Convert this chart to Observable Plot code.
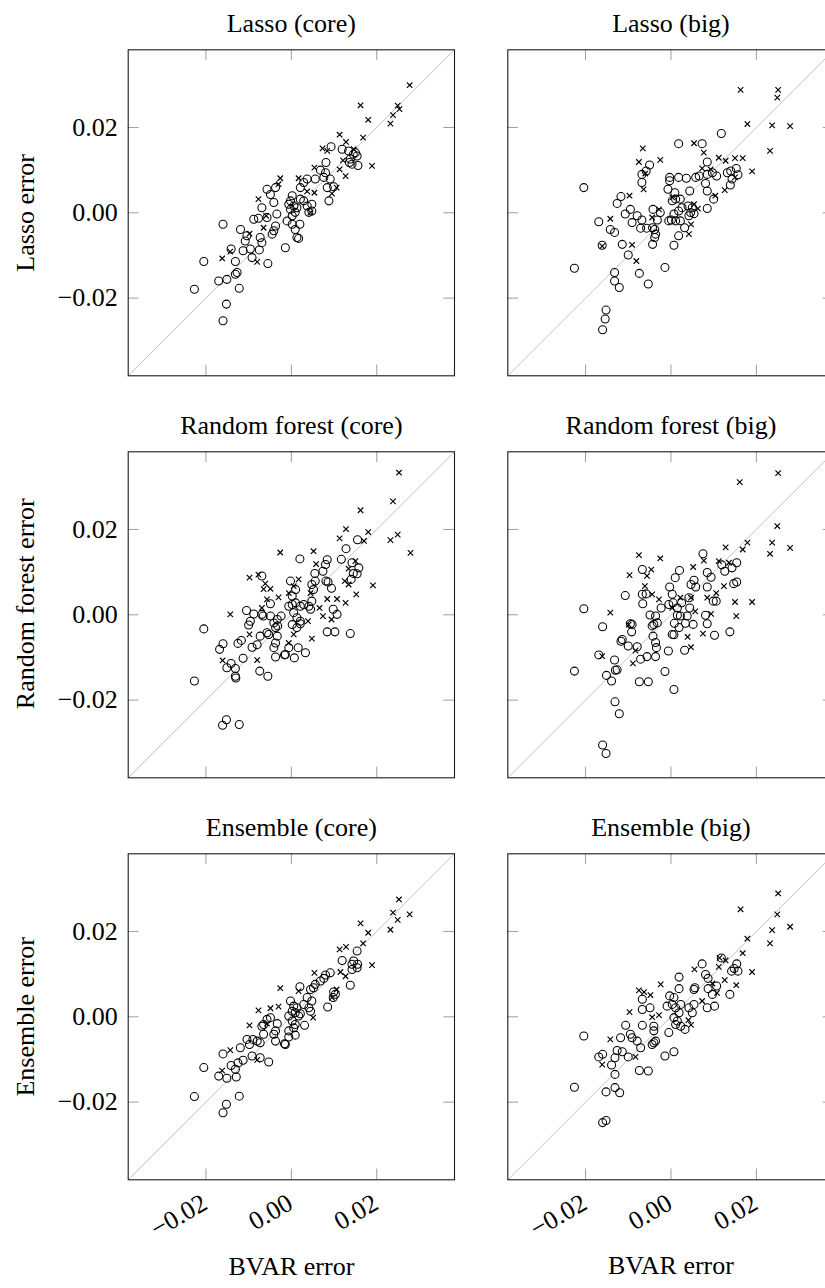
<!DOCTYPE html>
<html><head><meta charset="utf-8">
<script src="https://cdn.jsdelivr.net/npm/d3@7"></script>
<script src="https://cdn.jsdelivr.net/npm/@observablehq/plot@0.6"></script>
<style>
html,body{margin:0;padding:0;background:#fff;}
#fig{position:relative;width:825px;height:1288px;overflow:hidden;background:#fff;}
#fig svg{position:absolute;}
</style></head><body><div id="fig"></div>
<script>
// ---- data: [BVAR error, model error] ----
const lassoCoreCircles = [[.0093,.0155],[.0119,.0149],[.0134,.0145],[.0145,.0137],[.0154,.0133],[.015,.0141],[.0138,.0126],[.0142,.0114],[.0156,.0111],[.0136,.0118],[.0081,.0118],[.0068,.01],[.008,.0094],[.0076,.0083],[.0056,.0079],[.0037,.0079],[.0091,.0079],[.0099,.0061],[.0084,.0059],[.0088,.0028],[.0029,.0071],[.0021,.0059],[.0021,.0032],[.0002,.004],[-.0002,.0028],[.0006,.0016],[.0013,.0012],[.0029,.0028],[.0037,.0016],[.0048,.002],[.0041,.0001],[.0048,.0004],[-.0006,.002],[-.0002,.0008],[.0009,.0001],[.0002,-.0007],[-.001,-.0019],[.0002,-.0027],[.0009,-.0039],[.0013,-.0058],[.002,-.0027],[-.0037,.0059],[-.0057,.0055],[-.0049,.0043],[-.0041,.0024],[-.0069,.0012],[-.0034,-.0003],[-.0057,-.0011],[-.0088,-.0015],[-.0077,-.0013],[-.0037,-.0031],[-.0041,-.0042],[-.0045,-.005],[-.0073,-.0058],[-.0069,-.007],[-.0104,-.0054],[-.0108,-.0066],[-.0119,-.0039],[-.0096,-.0085],[-.0092,-.0105],[-.0075,-.0087],[-.0113,-.0089],[-.0141,-.0085],[-.0131,-.0114],[-.0127,-.014],[-.0131,-.0144],[-.0151,-.0156],[-.017,-.016],[-.0122,-.0177],[-.0205,-.0114],[-.0227,-.0179],[-.0152,-.0214],[-.016,-.0253],[-.016,-.0027],[-.0055,-.0119],[-.0014,-.0082],[.0017,-.006]];
const lassoCoreCrosses = [[.0277,.0299],[.0162,.0252],[.0249,.0251],[.0253,.0243],[.0238,.0229],[.018,.0218],[.0232,.0209],[.0113,.0183],[.0168,.0176],[.0128,.0166],[.0073,.0151],[.0084,.0145],[.0189,.011],[.0113,.0102],[.0127,.0086],[.0054,.0106],[-.0026,.0081],[-.003,.0067],[.0017,.0081],[.0054,.0047],[.0106,.0059],[.0095,.0045],[-.0077,.0032],[-.0059,-.0007],[-.0098,-.0049],[-.0162,-.0107],[-.0143,-.0091],[-.008,-.0115],[.0045,.0001],[.0121,.0123],[-.0065,-.0035],[.0146,.0149],[.0037,.005]];
const lassoBigCircles = [[-.0204,.0059],[-.0226,-.013],[-.0169,-.0021],[-.0142,-.0039],[-.0132,-.0046],[-.0161,-.0076],[-.0114,-.0074],[-.01,-.0099],[-.0132,-.014],[-.0132,-.016],[-.0121,-.0175],[-.0152,-.0228],[-.0154,-.0249],[-.016,-.0274],[-.0074,-.0142],[-.0053,-.0167],[-.0014,-.0128],[-.0126,.0022],[-.0117,.0038],[-.0107,-.0003],[-.0095,.0008],[-.0091,-.0023],[-.0079,-.0007],[-.0068,-.0017],[-.0071,-.0036],[-.0057,-.0036],[-.0043,-.0035],[-.0038,-.0039],[-.0036,-.005],[-.0038,-.0058],[-.0043,-.0074],[-.0042,.0008],[-.0025,.00005],[-.0032,-.0017],[-.0068,.009],[-.0058,.0098],[-.005,.0112],[-.0068,.0071],[.0018,.0162],[.0073,.0162],[.0118,.0186],[-.0003,.0083],[-.0003,.0075],[.0018,.0083],[.0036,.0081],[.0058,.0083],[.0066,.0086],[.0085,.0119],[.0085,.009],[.0097,.0094],[.0107,.0086],[.0081,.00685],[.0085,.0051],[.01,.0032],[.0085,.001],[.0132,.0094],[.014,.0098],[.0153,.0104],[.0157,.0089],[.0143,.0079],[.0139,.0065],[.0044,.0051],[-.0007,.0055],[.0009,.0047],[.0011,.0032],[.0003,.0028],[.0022,.0032],[.0026,.0012],[.0018,.0004],[.0007,-.0003],[.0001,-.0017],[-.0005,-.0019],[.0011,-.0019],[.0022,-.0019],[.0042,-.0007],[.0046,.00005],[.0054,-.0002],[.004,.0016],[.005,.0012],[.0032,-.0035],[.0018,-.0054],[.0007,-.0076]];
const lassoBigCrosses = [[.0163,.0288],[.0251,.0288],[.0249,.027],[.0179,.0208],[.0237,.0205],[.0279,.0203],[.0232,.0145],[.019,.0097],[.0112,.0129],[.0128,.0122],[.015,.0128],[.0168,.0128],[.015,.0083],[.0126,.0053],[.0104,.004],[.0077,.0141],[.0054,.0163],[.0073,.0104],[.0093,.0102],[-.0025,.0124],[-.0066,.0151],[-.0075,.0119],[-.006,.0092],[-.0064,.0055],[-.0097,.004],[-.0142,-.0014],[-.0161,-.0078],[-.0091,-.0075],[-.0081,-.0113],[.0042,-.005],[.0047,-.0027],[.0054,.002],[-.0028,.0008],[-.0044,-.0011],[.0003,.0036],[.0063,.001]];
const rfCoreCircles = [[.0155,.0176],[.0128,.0155],[.0117,.013],[.0142,.0122],[.0158,.011],[.0154,.0096],[.0145,.0097],[.014,.0083],[.002,.0131],[.0084,.0129],[.008,.0118],[.0074,.0102],[.0055,.0097],[.0081,.0079],[.0086,.0077],[.0094,.0062],[.0056,.0079],[.0048,.0071],[.0052,.0059],[.0048,.0032],[.0041,.002],[.0045,.0013],[.0029,.0024],[.0021,.002],[.001,.0028],[.0002,.0044],[.001,.0059],[-.0002,.0079],[.0002,.0024],[-.0006,.002],[.00055,.0005],[.0013,-.0007],[.0021,-.0015],[.0002,-.0023],[.0021,-.0021],[.0013,-.003],[.0098,.0013],[.0107,.0001],[.0084,-.004],[.0102,-.004],[.0138,-.0044],[.0033,-.0089],[.0016,-.0077],[.0007,-.0101],[-.0006,-.0077],[-.0016,-.0094],[-.0037,-.0099],[-.0041,-.0077],[-.0037,-.0066],[-.0033,-.005],[-.0037,-.003],[-.0041,-.0019],[-.0033,-.0011],[-.0024,-.0003],[-.0049,-.0003],[-.0057,-.0042],[-.0053,-.0046],[-.0073,-.005],[-.008,-.007],[-.0092,-.0076],[-.0113,-.0102],[-.0125,-.0067],[-.0117,-.006],[-.016,-.0068],[-.0168,-.0081],[-.0141,-.0114],[-.0151,-.0124],[-.0131,-.0126],[-.013,-.0148],[-.0131,-.0144],[-.0074,-.0132],[-.0055,-.0144],[-.0105,.001],[-.0088,.0002],[-.0096,-.0015],[-.01,-.0024],[-.0069,.0001],[-.0066,-.0003],[-.0069,.0091],[-.0049,.0026],[-.0205,-.0033],[-.0227,-.0155],[-.0152,-.0246],[-.0161,-.0259],[-.0122,-.0257],[-.0032,-.0026],[-.0014,-.0093]];
const rfCoreCrosses = [[.0252,.0333],[.0238,.0266],[.0162,.0245],[.0128,.0201],[.018,.0194],[.0113,.0179],[.017,.0173],[.0232,.0175],[.0249,.0188],[.0279,.0145],[.0052,.0149],[-.0026,.0146],[.0058,.0119],[.015,.0126],[.0134,.0108],[.0125,.0079],[.0134,.0071],[.0191,.0069],[.0152,.0048],[.0127,.0028],[.0107,.0037],[.0084,.0037],[.0066,.0016],[.0074,-.0003],[.0094,-.0011],[.0039,-.0015],[.0048,-.0056],[.0017,.0083],[.00055,.0067],[-.0006,.0051],[-.003,.0041],[-.0049,.0061],[-.0061,.0073],[-.0065,.006],[-.0077,.0094],[-.0098,.0087],[-.0057,.0036],[-.0069,.0016],[-.0143,.0001],[-.0098,-.0046],[.00055,-.0046],[-.0006,-.0066],[-.008,-.0106],[-.0161,-.0107],[.0045,.0051]];
const rfBigCircles = [[.0075,.0143],[.002,.0104],[.001,.0087],[.0154,.0122],[.0143,.011],[.0126,.0102],[.0154,.0077],[.0147,.0073],[.0119,.0117],[.0085,.0099],[.0094,.0088],[.0085,.0065],[.0054,.0081],[.0058,.0065],[.0047,.0071],[.0099,.0032],[.0106,.0032],[.0081,-.0001],[.0085,-.0021],[.0102,-.0048],[.0138,-.004],[-.0003,.0065],[.0003,.0048],[.0005,.0028],[-.0005,.0024],[.0015,.0016],[.0025,.0028],[.0042,.004],[.0044,.0016],[.0038,-.0003],[.0022,-.0003],[.0015,-.0001],[.0008,-.002],[.0019,-.003],[.0003,-.0046],[.0007,-.0047],[.0032,-.0083],[.0052,-.00225],[.0034,-.002],[-.0006,-.0085],[-.0014,-.0133],[.0007,-.0175],[-.0023,.0016],[-.0049,-.00005],[-.0036,-.0003],[-.004,-.00225],[-.0044,-.0026],[-.0032,-.0019],[-.0042,-.005],[-.0036,-.0065],[-.0034,-.0077],[-.0036,-.0098],[-.0056,-.0098],[-.0071,-.0104],[-.0079,-.0075],[-.01,-.0073],[-.0074,-.0157],[-.0053,-.0157],[-.0067,.0106],[-.0067,.0048],[-.0066,.0026],[-.0058,.0049],[-.0107,.0045],[-.0095,-.0021],[-.0091,-.00225],[-.0092,-.004],[-.0114,-.0058],[-.0117,-.0062],[-.0169,-.0094],[-.0132,-.0106],[-.013,-.013],[-.0126,-.0129],[-.0151,-.0142],[-.0139,-.0155],[-.0131,-.0204],[-.0121,-.0232],[-.016,-.0305],[-.0152,-.0325],[-.0226,-.0132],[-.0204,.0014],[-.016,-.0028]];
const rfBigCrosses = [[.0251,.0332],[.0161,.0311],[.0249,.0208],[.0179,.0169],[.0237,.0169],[.0279,.0157],[.0232,.0143],[.0168,.0153],[.0128,.0158],[.0077,.0127],[.0052,.0112],[.0112,.0126],[.0136,.0122],[.0124,.0067],[.0106,.0051],[.0085,.004],[.015,.003],[.019,.003],[.0153,-.0003],[.0094,.0002],[.0075,-.0044],[.0039,-.0052],[.0047,-.0076],[.0047,.004],[.0057,.0008],[-.0075,.014],[-.0025,.0132],[-.0046,.0106],[-.0097,.0093],[-.0056,.0091],[-.0061,.0067],[-.0044,.0048],[-.0028,.0036],[-.0142,.0005],[-.0099,-.0023],[-.0083,-.0084],[-.0089,-.0114],[-.0161,-.0097],[.0003,.0016],[.0022,.004]];
const ensCoreCircles = [[.0154,.0154],[.0119,.0132],[.0146,.0131],[.0142,.0123],[.0155,.0123],[.0142,.0111],[.0154,.0115],[.0138,.0074],[.0091,.0103],[.008,.0098],[.0076,.009],[.0068,.0084],[.0056,.0076],[.0052,.0068],[.0045,.0064],[.0099,.0058],[.0103,.0053],[.0098,.0045],[.0085,.0023],[.002,.00705],[.0037,.0045],[.0048,.0037],[.0041,.0021],[.0045,.0013],[.0029,.0029],[-.0002,.0037],[.00055,.0025],[.0013,.0021],[.0002,.0013],[.0009,.00095],[-.0006,.0002],[.0021,.0007],[.0017,.0002],[.0002,-.001],[.0009,-.0018],[.00055,-.0026],[.0031,-.002],[-.0006,-.0033],[.0009,-.0043],[-.0006,-.00475],[-.0016,-.0063],[-.0037,-.0057],[-.0041,-.0041],[-.0037,-.0033],[-.0033,-.0016],[-.0049,-.0002],[-.0057,-.0006],[-.0065,-.0018],[-.0069,-.0022],[-.0065,-.0041],[-.0073,-.0061],[-.008,-.0057],[-.009,-.0053],[-.0098,-.0065],[-.0104,-.0053],[-.01195,-.00725],[-.0113,-.0102],[-.0092,-.0092],[-.0073,-.0096],[-.0053,-.0106],[-.0125,-.0108],[-.0141,-.0114],[-.0131,-.0123],[-.0129,-.0141],[-.0151,-.0144],[-.017,-.0139],[-.016,-.0087],[-.0205,-.0119],[-.0227,-.0187],[-.0122,-.0186],[-.0152,-.0205],[-.016,-.0225],[-.0014,-.0065]];
const ensCoreCrosses = [[.0252,.0275],[.0238,.0244],[.0277,.024],[.0249,.0227],[.0232,.0204],[.0162,.0219],[.018,.0197],[.0168,.0172],[.0128,.0164],[.0113,.0158],[.0189,.0121],[.0127,.0095],[.0115,.0105],[.0054,.0103],[-.0026,.0067],[-.003,.0024],[-.0049,.002],[-.0077,.0015],[.0017,.006],[.0051,-.0002],[.0106,.0064],[.0095,.0045],[-.0098,-.002],[-.0143,-.0078],[-.0162,-.0126],[-.008,-.0101],[-.0057,-.0016]];
const ensBigCircles = [[.0073,.0124],[.0118,.0138],[.0154,.0124],[.0148,.0113],[.0142,.0107],[.0157,.0107],[.0081,.0099],[.0087,.009],[.0107,.0072],[.0097,.00525],[.0087,.0066],[.0138,.00525],[.0102,.0025],[.0085,.0021],[.0056,.0068],[.0054,.0064],[.0019,.0093],[.0019,.0066],[-.0003,.0049],[.0007,.0045],[.0003,.0029],[-.0009,.0025],[.0011,.0021],[.0023,.0029],[.0019,.00095],[.0007,-.0002],[.0015,-.001],[.0011,-.0018],[.0033,-.00295],[.0023,-.0022],[.0042,.0021],[.005,.00095],[.0054,.0029],[-.0005,-.0037],[.0007,-.0082],[-.0014,-.0092],[-.0067,.0041],[-.0067,.0017],[-.0049,.0021],[-.0067,-.002],[-.004,-.0022],[-.004,-.0033],[-.0036,-.0057],[-.004,-.0061],[-.0044,-.0065],[-.0071,-.00725],[-.0074,-.0126],[-.0053,-.0127],[-.0106,-.002],[-.0095,-.0041],[-.0091,-.0049],[-.0079,-.0057],[-.0118,-.0049],[-.0126,-.0079],[-.0114,-.0082],[-.01,-.0094],[-.0139,-.0113],[-.0131,-.0096],[-.0169,-.0094],[-.016,-.0088],[-.0131,-.0135],[-.0152,-.0176],[-.0131,-.0166],[-.012,-.0178],[-.016,-.0248],[-.0152,-.0243],[-.0226,-.0165],[-.0204,-.0045]];
const ensBigCrosses = [[.0251,.0289],[.0163,.0252],[.0249,.024],[.0279,.0211],[.0237,.0203],[.0179,.0183],[.0232,.0172],[.0168,.0149],[.0114,.0138],[.0128,.0132],[.0112,.0117],[.019,.0105],[.0055,.0111],[.0126,.0086],[.0153,.0074],[.0097,.0078],[.0108,.0056],[.0073,.0037],[-.0024,.0076],[-.0075,.0062],[-.0063,.0058],[-.0048,.0051],[-.0097,.0011],[-.0044,-.0001],[-.0028,.0004],[.0041,-.0008],[.0047,-.0019],[-.0142,-.0053],[-.0083,-.0094],[-.0161,-.0112]];

const xTicks = [-0.02, 0, 0.02];
const yTicks = [-0.02, 0, 0.02];
const axisDomain = [-0.0382, 0.0382];
const panelTitles = [["Lasso (core)", "Lasso (big)"], ["Random forest (core)", "Random forest (big)"], ["Ensemble (core)", "Ensemble (big)"]];
const rowLabels = ["Lasso error", "Random forest error", "Ensemble error"];
const xLabel = "BVAR error";
const panelData = [
  [[lassoCoreCircles, lassoCoreCrosses], [lassoBigCircles, lassoBigCrosses]],
  [[rfCoreCircles, rfCoreCrosses], [rfBigCircles, rfBigCrosses]],
  [[ensCoreCircles, ensCoreCrosses], [ensBigCircles, ensBigCrosses]]
];

// ---- layout ----
const FONT = '"Liberation Serif", "Times New Roman", serif';
const FW = 326.3, FH = 326, TICK = 10.7;
const colLeft = [0, 470], colMarginLeft = [127.7, 37.3];
const rowTop = [0, 402, 804], MT = 49.3;
const rowLabelShift = [0, -11, 0];
const fmt = d3.format(".2f");
const fig = document.getElementById("fig");

for (let r = 0; r < 3; r++) {
  for (let c = 0; c < 2; c++) {
    const [circles, crosses] = panelData[r][c];
    const bottomRow = r === 2, leftCol = c === 0;
    const mb = bottomRow ? 108.7 : 26.7;
    const ml = colMarginLeft[c], mr = 14;
    const tickStyle = {stroke: "#858585", strokeWidth: 0.8};
    const marks = [
      Plot.link([axisDomain], {x1: d => d[0], y1: d => d[0], x2: d => d[1], y2: d => d[1], stroke: "#c2c2c2", strokeWidth: 1}),
      Plot.tickX(xTicks, {x: d => d, insetTop: FH - TICK, ...tickStyle}),
      Plot.tickX(xTicks, {x: d => d, insetBottom: FH - TICK, ...tickStyle}),
      Plot.tickY(yTicks, {y: d => d, insetRight: FW - TICK, ...tickStyle}),
      Plot.tickY(yTicks, {y: d => d, insetLeft: FW - TICK, ...tickStyle}),
      Plot.dot(circles, {x: d => d[0], y: d => d[1], r: 4, stroke: "black", strokeWidth: 1.05, fill: "none"}),
      Plot.dot(crosses, {x: d => d[0], y: d => d[1], symbol: "times", r: 2.6, stroke: "black", strokeWidth: 1.15}),
      Plot.frame({stroke: "#1a1a1a", strokeWidth: 1.1}),
      Plot.text([panelTitles[r][c]], {frameAnchor: "top", dy: -17.5, lineAnchor: "bottom", fontSize: 26, fill: "black"})
    ];
    if (leftCol) {
      marks.push(Plot.axisY(yTicks, {anchor: "left", tickSize: 0, tickPadding: 10.4, tickFormat: fmt, fontSize: 26, label: null, fill: "black"}));
      marks.push(Plot.text([rowLabels[r]], {frameAnchor: "left", rotate: -90, dx: -94.7, dy: rowLabelShift[r], lineAnchor: "bottom", textAnchor: "middle", fontSize: 26, fill: "black"}));
    }
    if (bottomRow) {
      marks.push(Plot.axisX(xTicks, {anchor: "bottom", tickSize: 0, tickPadding: 21, tickRotate: -30, dx: -1, tickFormat: fmt, fontSize: 26, label: null, fill: "black"}));
      marks.push(Plot.text([xLabel], {frameAnchor: "bottom", dy: 94.7, lineAnchor: "bottom", fontSize: 26, fill: "black"}));
    }
    const svg = Plot.plot({
      width: ml + FW + mr,
      height: MT + FH + mb,
      marginLeft: ml, marginRight: mr, marginTop: MT, marginBottom: mb,
      x: {domain: axisDomain, axis: null},
      y: {domain: axisDomain, axis: null},
      style: {fontFamily: FONT, fontSize: "26px", background: "transparent", overflow: "visible", maxWidth: "none", color: "black"},
      marks
    });
    svg.style.left = colLeft[c] + "px";
    svg.style.top = rowTop[r] + "px";
    fig.appendChild(svg);
  }
}
</script>
</body></html>
